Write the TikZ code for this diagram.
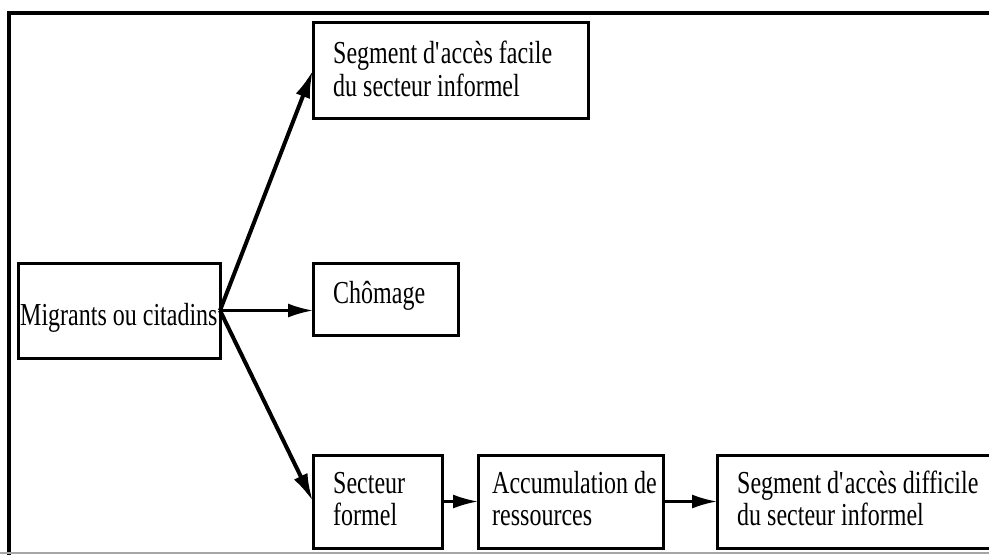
\documentclass[tikz,border=0pt]{standalone}
\usepackage{fontspec}
\setmainfont{Liberation Serif}[FakeStretch=0.75]
\usetikzlibrary{arrows.meta}
\begin{document}
\begin{tikzpicture}[x=1pt,y=-1pt,
  box/.style={draw=black,line width=3pt,rectangle,inner sep=0pt,outer sep=0pt},
  lbl/.style={anchor=base west,inner sep=0pt,font=\fontsize{32}{34}\selectfont},
  thinarrow/.style={line width=2.5pt,-{Latex[length=25pt,width=14pt]}},
  thickarrow/.style={line width=4pt,-{Latex[length=28pt,width=15pt]}},
  frameline/.style={line width=3.4pt,black}]
\useasboundingbox (0,0) rectangle (989,555);
% frame
\coordinate (ftl) at (9,13);
\coordinate (ftr) at (989,13);
\coordinate (fbl) at (9,555);
\coordinate (bbl) at (0,553);
\coordinate (bbr) at (989,553);
\draw[frameline] (ftr) -- (ftl) -- (fbl);
\draw[line width=1.5pt,black!35] (bbl) -- (bbr);
% boxes
\node[box,minimum width=202pt,minimum height=95pt] (mig) at (119,310.5) {};
\node[box,minimum width=275pt,minimum height=96pt] (fac) at (450.5,70) {};
\node[box,minimum width=145pt,minimum height=72pt] (cho) at (385.5,299) {};
\node[box,minimum width=129pt,minimum height=93pt] (sec) at (377.5,501.5) {};
\node[box,minimum width=185pt,minimum height=93pt] (acc) at (570.5,501.5) {};
\node[box,minimum width=283pt,minimum height=93pt] (dif) at (858.5,501.5) {};
% texts
\node[lbl] (tmig) at (20,325) {Migrants ou citadins};
\node[lbl] (tfac1) at (333,63) {Segment d\textquotesingle accès facile};
\node[lbl] (tfac2) at (333,96) {du secteur informel};
\node[lbl] (tcho) at (333,303) {Chômage};
\node[lbl] (tsec1) at (333,493) {Secteur};
\node[lbl] (tsec2) at (333,525) {formel};
\node[lbl] (tacc1) at (492,493) {Accumulation de};
\node[lbl] (tacc2) at (492,525) {ressources};
\node[lbl] (tdif1) at (737,493) {Segment d\textquotesingle accès difficile};
\node[lbl] (tdif2) at (737,525) {du secteur informel};
% arrows
\coordinate (chin) at (cho.west |- mig.east);
\draw[thickarrow] (mig.east) -- (fac.west);
\draw[thinarrow] (mig.east) -- (chin);
\draw[thickarrow] (mig.east) -- (sec.west);
\draw[thinarrow] (sec.east) -- (acc.west);
\draw[thinarrow] (acc.east) -- (dif.west);
\end{tikzpicture}
\end{document}
